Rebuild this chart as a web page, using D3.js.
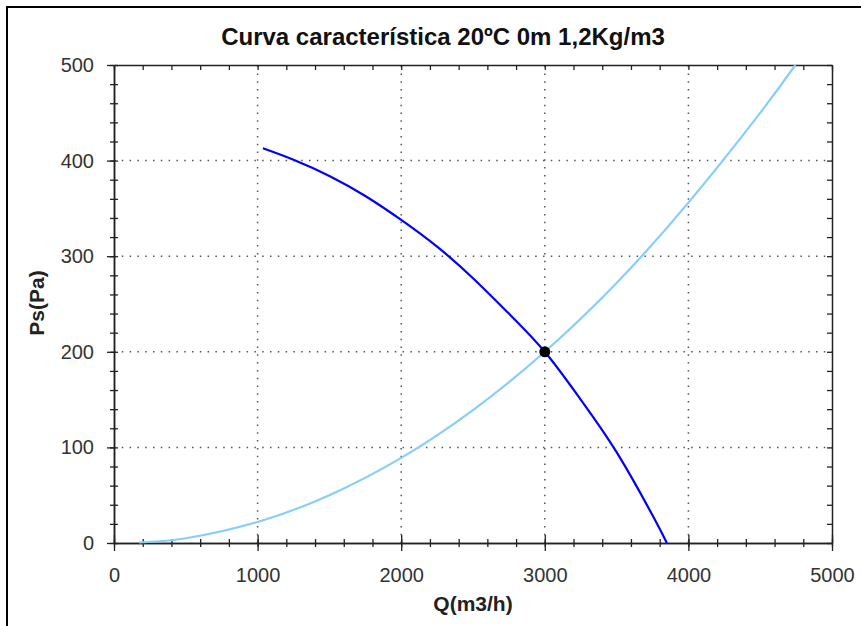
<!DOCTYPE html>
<html>
<head>
<meta charset="utf-8">
<script src="https://cdn.jsdelivr.net/npm/d3@7"></script>
<style>
  body { margin: 0; background: #fff; }
  svg { display: block; font-family: "Liberation Sans", Arial, sans-serif; }
</style>
</head>
<body>
<svg id="chart" width="861" height="626"></svg>
<script>
"use strict";

// values
const titleText = "Curva característica 20ºC 0m 1,2Kg/m3";
const xTicks = [0, 1000, 2000, 3000, 4000, 5000];
const yTicks = [0, 100, 200, 300, 400, 500];
const xMinor = d3.range(0, 5001, 200);
const yMinor = d3.range(0, 501, 20);

// fan curve (dark blue)
const fanQ = [1037, 1250, 1500, 1750, 2000, 2250, 2500, 2750, 3000, 3250, 3500, 3750, 3850];
const fanP = [413, 401, 384, 363, 338, 310, 277, 240, 200, 150, 95, 29, 0];

// system curve (light blue)
const sysQ = [174, 500, 1000, 1500, 2000, 2500, 3000, 3500, 4000, 4500, 4745];
const sysP = [0.5, 5, 22, 50, 89, 139, 200, 272, 356, 450, 500];

// operating point
const opQ = [3000];
const opP = [200];

(() => {
	const svg = d3.select("#chart");

	const x = d3.scaleLinear().domain([0, 5000]).range([114, 832]);
	const y = d3.scaleLinear().domain([0, 500]).range([543, 65]);

	// outer frame (only top and left edges show)
	svg.append("path")
		.attr("d", "M7,626 L7,7 L861,7")
		.attr("fill", "none")
		.attr("stroke", "#000")
		.attr("stroke-width", 2);

	// dotted grid
	const grid = svg.append("g").attr("stroke", "#555")
		.attr("stroke-width", 1.5).attr("stroke-dasharray", "1.5,6.3");
	grid.selectAll(".vx").data(xTicks.slice(1, -1)).enter()
		.append("line")
		.attr("x1", d => x(d)).attr("x2", d => x(d))
		.attr("y1", y(0)).attr("y2", y(500));
	grid.selectAll(".hy").data(yTicks.slice(1, -1)).enter()
		.append("line")
		.attr("x1", x(0)).attr("x2", x(5000))
		.attr("y1", d => y(d)).attr("y2", d => y(d));

	const axisColor = "#222";
	function style(g) {
		g.select(".domain").attr("stroke", axisColor).attr("stroke-width", 1.5);
		g.selectAll(".tick line").attr("stroke", axisColor).attr("stroke-width", 1.3);
		g.selectAll("text").attr("fill", "#333").attr("font-size", 20)
			.attr("font-family", "'Liberation Sans', Arial, sans-serif");
	}

	// top & right: inside ticks, no labels
	svg.append("g").attr("transform", `translate(0,${y(500)})`)
		.call(d3.axisTop(x).tickValues(xMinor).tickFormat("").tickSizeInner(-5).tickSizeOuter(0))
		.call(style);
	svg.append("g").attr("transform", `translate(${x(5000)},0)`)
		.call(d3.axisRight(y).tickValues(yMinor).tickFormat("").tickSizeInner(-5).tickSizeOuter(0))
		.call(style);

	// bottom axis: minor then major (ticks cross the axis line)
	svg.append("g").attr("transform", `translate(0,${y(0)})`)
		.call(d3.axisBottom(x).tickValues(xMinor).tickFormat("").tickSizeInner(4).tickSizeOuter(0))
		.call(style)
		.call(g => g.selectAll(".tick line").attr("y1", -4));
	svg.append("g").attr("transform", `translate(0,${y(0)})`)
		.call(d3.axisBottom(x).tickValues(xTicks).tickFormat(d3.format("d")).tickSizeInner(8).tickSizeOuter(0))
		.call(style)
		.call(g => g.selectAll(".tick line").attr("y1", -8))
		.call(g => g.selectAll(".tick text").attr("y", 39).attr("dy", 0));

	// left axis
	svg.append("g").attr("transform", `translate(${x(0)},0)`)
		.call(d3.axisLeft(y).tickValues(yMinor).tickFormat("").tickSizeInner(4).tickSizeOuter(0))
		.call(style)
		.call(g => g.selectAll(".tick line").attr("x1", 4));
	svg.append("g").attr("transform", `translate(${x(0)},0)`)
		.call(d3.axisLeft(y).tickValues(yTicks).tickFormat(d3.format("d")).tickSizeInner(7).tickSizeOuter(0))
		.call(style)
		.call(g => g.selectAll(".tick text").attr("x", -20));

	// curves
	const sysData = sysQ.map((q, i) => ({q: q, p: sysP[i]}));
	const fanData = fanQ.map((q, i) => ({q: q, p: fanP[i]}));
	const line = d3.line().x(d => x(d.q)).y(d => y(d.p)).curve(d3.curveNatural);

	svg.append("path").datum(sysData)
		.attr("d", line)
		.attr("fill", "none")
		.attr("stroke", "#87cefa")
		.attr("stroke-width", 2.2);

	svg.append("path").datum(fanData)
		.attr("d", line)
		.attr("fill", "none")
		.attr("stroke", "#0000ff")
		.attr("stroke-width", 2.2);

	// operating point
	svg.selectAll(".op").data(opQ).enter()
		.append("circle")
		.attr("cx", d => x(d))
		.attr("cy", (d, i) => y(opP[i]))
		.attr("r", 5.5)
		.attr("fill", "#000");

	// title and axis titles
	svg.append("text")
		.attr("x", 443).attr("y", 45)
		.attr("text-anchor", "middle")
		.attr("font-size", 24).attr("font-weight", "bold")
		.attr("fill", "#111")
		.text(titleText);

	svg.append("text")
		.attr("x", 473).attr("y", 611)
		.attr("text-anchor", "middle")
		.attr("font-size", 21).attr("font-weight", "bold")
		.attr("fill", "#222")
		.text("Q(m3/h)");

	svg.append("text")
		.attr("transform", "translate(44,303) rotate(-90)")
		.attr("text-anchor", "middle")
		.attr("font-size", 21).attr("font-weight", "bold")
		.attr("fill", "#222")
		.text("Ps(Pa)");
})();
</script>
</body>
</html>
